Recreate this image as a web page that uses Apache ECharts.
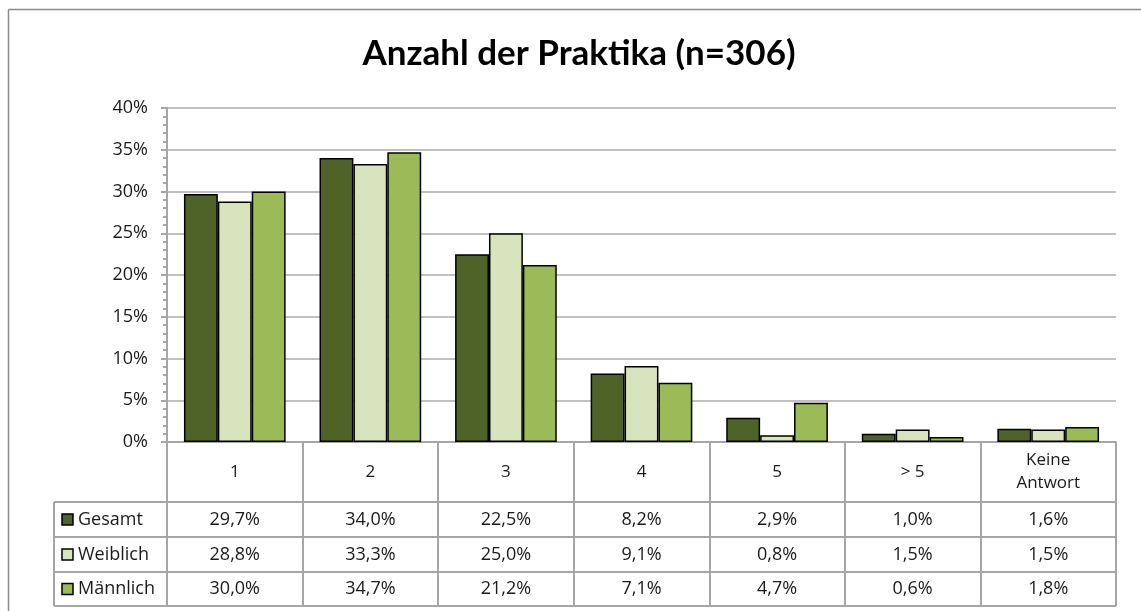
<!DOCTYPE html>
<html>
<head>
<meta charset="utf-8">
<script src="https://cdn.jsdelivr.net/npm/echarts@6/dist/echarts.min.js"></script>
<style>
  html, body { margin: 0; padding: 0; background: #fff; overflow: hidden; }
  #chart { width: 1141px; height: 611px; }
</style>
</head>
<body>
<div id="chart"></div>
<script>
// data
const categories = ['1', '2', '3', '4', '5', '> 5', 'Keine\nAntwort'];
const seriesNames = ['Gesamt', 'Weiblich', 'Männlich'];
const gesamt = [29.7, 34.0, 22.5, 8.2, 2.9, 1.0, 1.6];
const weiblich = [28.8, 33.3, 25.0, 9.1, 0.8, 1.5, 1.5];
const maennlich = [30.0, 34.7, 21.2, 7.1, 4.7, 0.6, 1.8];

const colors = ['#4f6228', '#d7e4bd', '#9bbb59'];
const allSeries = [gesamt, weiblich, maennlich];
const font = '"Open Sans", "Noto Sans", sans-serif';
const titleFont = 'Lato, "Noto Sans", sans-serif';
const lineGray = '#a6a6a6';

// table rows (below the x axis)
const rowLines = [502, 537, 572, 606];
const legendLeft = 54;

const fmt = (v) => v.toFixed(1).replace('.', ',') + '%';

const chart = echarts.init(document.getElementById('chart'));

const option = {
  animation: false,
  backgroundColor: '#fff',
  textStyle: { fontFamily: font },
  title: {
    text: 'Anzahl der Praktika (n=306)',
    left: 574,
    textAlign: 'center',
    top: 31,
    textStyle: { fontSize: 35, fontWeight: 'bold', color: '#000', fontFamily: titleFont },
  },
  grid: { left: 167, right: 25, top: 108, bottom: 169, containLabel: false },
  xAxis: {
    type: 'category',
    data: categories,
    axisLine: { lineStyle: { color: lineGray, width: 2 } },
    axisTick: { show: true, length: 164, lineStyle: { color: lineGray, width: 2 } },
    axisLabel: {
      margin: 30,
      verticalAlign: 'middle',
      color: '#1a1a1a',
      fontSize: 17,
      lineHeight: 23,
      fontFamily: font,
    },
  },
  yAxis: {
    type: 'value',
    min: 0,
    max: 40,
    interval: 5,
    axisLine: { show: true, lineStyle: { color: lineGray, width: 2 } },
    axisTick: { show: true, length: 6, lineStyle: { color: lineGray, width: 2 } },
    minorTick: { show: true, splitNumber: 5, length: 4, lineStyle: { color: lineGray, width: 2 } },
    axisLabel: { formatter: '{value}%', margin: 19, color: '#1a1a1a', fontSize: 18, fontFamily: font },
    splitLine: { lineStyle: { color: '#c0c0c0', width: 2 } },
  },
  series: allSeries.map((vals, i) => ({
    name: seriesNames[i],
    type: 'bar',
    data: vals,
    barGap: '0%',
    barCategoryGap: '25%',
    itemStyle: { color: colors[i], borderColor: '#000', borderWidth: 1.5 },
  })),
};

chart.setOption(option);

// data table under the axis
const graphics = [];
// outer frame: only its top and left edges are in view
graphics.push({
  type: 'line',
  shape: { x1: 8.5, y1: 9.5, x2: 8.5, y2: 611 },
  style: { stroke: '#8c8c8c', lineWidth: 1.5 },
  silent: true,
});
graphics.push({
  type: 'line',
  shape: { x1: 8.5, y1: 9.5, x2: 1141, y2: 9.5 },
  style: { stroke: '#8c8c8c', lineWidth: 1.5 },
  silent: true,
});
const gridRight = 1141 - 25;
rowLines.forEach((y) => {
  graphics.push({
    type: 'line',
    shape: { x1: legendLeft, y1: y, x2: gridRight, y2: y },
    style: { stroke: lineGray, lineWidth: 2 },
  });
});
graphics.push({
  type: 'line',
  shape: { x1: legendLeft, y1: rowLines[0], x2: legendLeft, y2: rowLines[3] },
  style: { stroke: lineGray, lineWidth: 2 },
});

allSeries.forEach((vals, i) => {
  const cy = (rowLines[i] + rowLines[i + 1]) / 2;
  graphics.push({
    type: 'rect',
    shape: { x: 62, y: cy - 5.5, width: 11, height: 11 },
    style: { fill: colors[i], stroke: '#000', lineWidth: 1.5 },
  });
  graphics.push({
    type: 'text',
    x: 78,
    y: cy,
    style: { text: seriesNames[i], fill: '#1a1a1a', font: '18px ' + font, verticalAlign: 'middle', align: 'left' },
  });
  vals.forEach((v, j) => {
    const cx = chart.convertToPixel({ xAxisIndex: 0 }, j);
    graphics.push({
      type: 'text',
      x: cx,
      y: cy,
      style: { text: fmt(v), fill: '#1a1a1a', font: '18px ' + font, verticalAlign: 'middle', align: 'center' },
    });
  });
});

chart.setOption({ graphic: graphics });
window.addEventListener('resize', () => chart.resize());
</script>
</body>
</html>
